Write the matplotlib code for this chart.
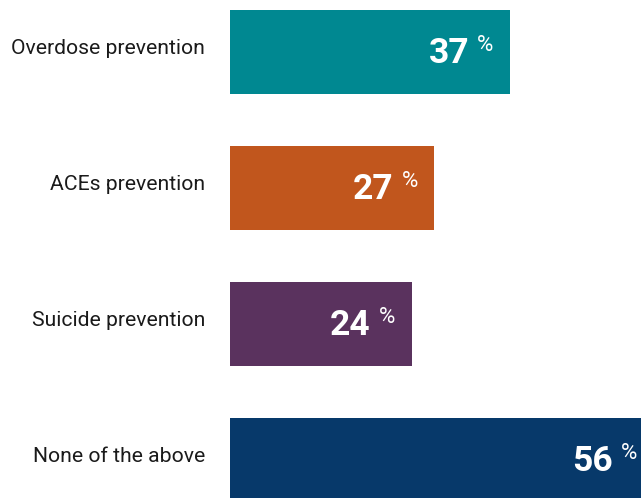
import matplotlib.pyplot as plt

categorias = ['Overdose prevention', 'ACEs prevention', 'Suicide prevention', 'None of the above']
valores = [37, 27, 24, 56]
cores = ['#008891', '#C1561D', '#5A325E', '#07396A']

fig = plt.figure(figsize=(6.41, 4.98), dpi=100)
ax = fig.add_axes([230 / 641, 0, 411 / 641, 1])

pos = list(range(len(categorias)))
ax.barh(pos, valores, height=84 / 136, color=cores)
ax.set_xlim(0, 411 / 7.57)
ax.set_ylim(3 + 38 / 136, -52 / 136)
ax.axis('off')

for i, (cat, v) in enumerate(zip(categorias, valores)):
    ax.annotate(cat, xy=(0, i), xytext=(-25, -2), textcoords='offset pixels',
                ha='right', va='baseline', fontsize=15.2, family='Roboto', color='#1a1a1a')
    ax.annotate(str(v), xy=(v, i), xytext=(-41, -10.7), textcoords='offset pixels',
                ha='right', va='baseline', fontsize=25.5, fontweight='bold',
                family='Roboto', color='white', annotation_clip=False)
    ax.annotate('%', xy=(v, i), xytext=(-33, 1), textcoords='offset pixels',
                ha='left', va='baseline', fontsize=16, family='Roboto',
                color='white', annotation_clip=False)

plt.savefig('out.png', dpi=100)
